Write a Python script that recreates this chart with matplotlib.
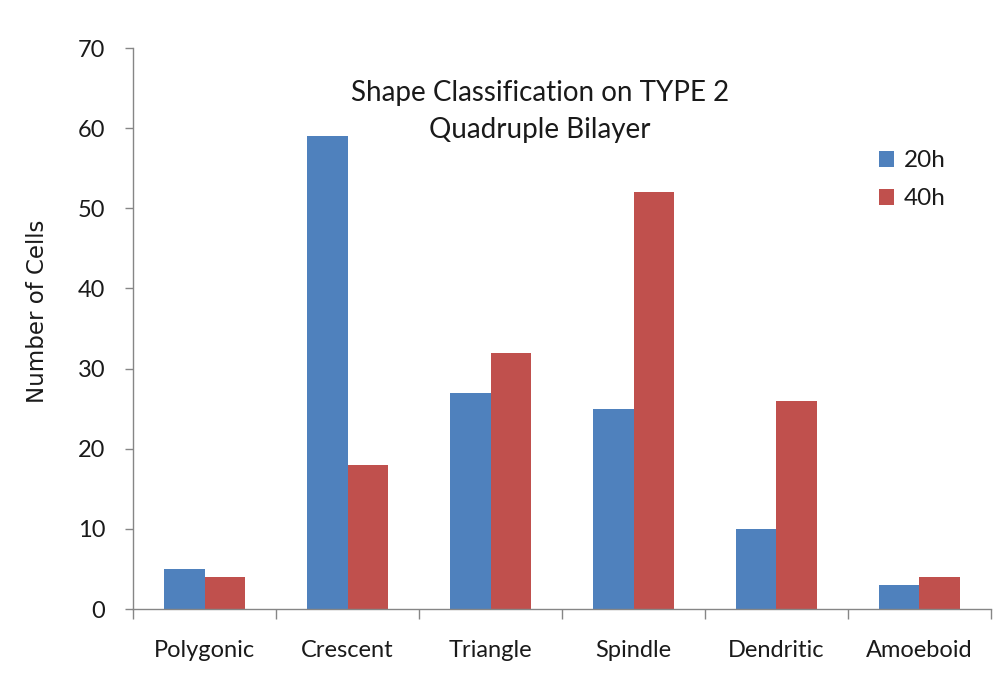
import matplotlib
matplotlib.use("Agg")
import matplotlib.pyplot as plt
import numpy as np

# ── Data ──────────────────────────────────────────────────────────
shapes = ["Polygonic", "Crescent", "Triangle", "Spindle", "Dendritic", "Amoeboid"]
cells_20h = [5, 59, 27, 25, 10, 3]
cells_40h = [4, 18, 32, 52, 26, 4]
y_ticks = [0, 10, 20, 30, 40, 50, 60, 70]

BLUE = "#4F81BD"
RED = "#C0504D"
AXIS_GRAY = "#868686"
TEXT = "#1a1a1a"

plt.rcParams["font.family"] = ["Lato", "DejaVu Sans"]

fig = plt.figure(figsize=(10.07, 6.81), dpi=100)
fig.patch.set_facecolor("white")
ax = fig.add_axes([0.1321, 0.1057, 0.8520, 0.8238])

x = np.arange(len(shapes))
w = 0.28
ax.bar(x - w / 2, cells_20h, width=w, color=BLUE, label="20h")
ax.bar(x + w / 2, cells_40h, width=w, color=RED, label="40h")

ax.set_xlim(-0.5, len(shapes) - 0.5)
ax.set_ylim(0, 70)
ax.set_yticks(y_ticks)
ax.tick_params(axis="y", labelsize=17, colors=AXIS_GRAY, labelcolor=TEXT,
               length=6, width=1, pad=14)

# category ticks sit on the boundaries, labels in the middle
ax.set_xticks(np.arange(len(shapes) + 1) - 0.5)
ax.set_xticklabels([])
ax.set_xticks(x, minor=True)
ax.set_xticklabels(shapes, minor=True, fontsize=17, color=TEXT)
ax.tick_params(axis="x", which="major", colors=AXIS_GRAY, length=7, width=1)
ax.tick_params(axis="x", which="minor", length=0, pad=22)

for side in ("top", "right"):
    ax.spines[side].set_visible(False)
for side in ("left", "bottom"):
    ax.spines[side].set_color(AXIS_GRAY)
    ax.spines[side].set_linewidth(1)

ax.set_ylabel("Number of Cells", fontsize=16.5, family="DejaVu Sans",
              color=TEXT, va="center")
ax.yaxis.set_label_coords(-0.111, 0.53)

fig.text(0.536, 0.836, "Shape Classification on TYPE 2\nQuadruple Bilayer",
         ha="center", va="center", fontsize=20, color=TEXT, linespacing=1.5)

ax.legend(loc="upper left", bbox_to_anchor=(0.861, 0.797),
          bbox_transform=fig.transFigure, frameon=False, fontsize=17.5,
          handlelength=0.6, handleheight=0.6, handletextpad=0.4,
          labelspacing=0.7, borderpad=0, labelcolor=TEXT)

fig.savefig("out.png", dpi=100, facecolor="white")
